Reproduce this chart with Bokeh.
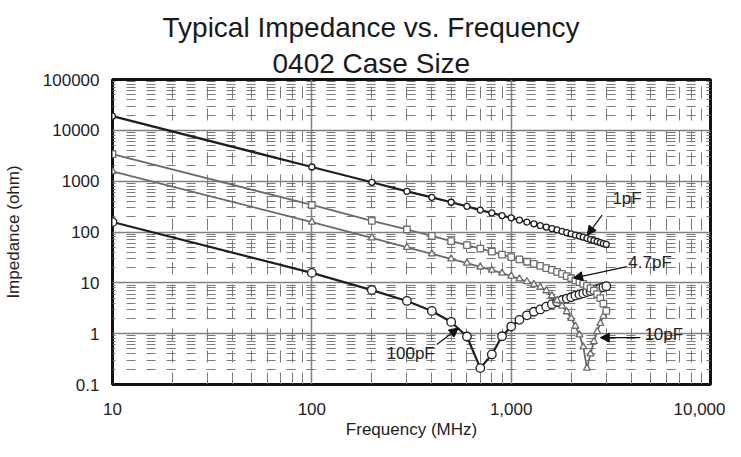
from bokeh.plotting import figure
from bokeh.models import Range1d, FixedTicker, Arrow, NormalHead, Label, Title
from bokeh.embed import file_html
from bokeh.resources import INLINE

freq_mhz = [10, 100, 200, 300, 400, 500, 600, 700, 800, 900, 1000,
            1100, 1200, 1300, 1400, 1500, 1600, 1700, 1800, 1900, 2000,
            2100, 2200, 2300, 2400, 2500, 2600, 2700, 2800, 2900, 3000]

z_1pf = [19000, 1900, 950, 630, 480, 385, 320, 270, 237, 210, 190,
         172, 157, 145, 134, 125, 117, 110, 103, 97, 92,
         87, 83, 79, 75, 71, 68, 65, 62, 59, 57]

z_4p7pf = [3400, 340, 166, 112, 84, 66, 55, 47, 41, 36, 32,
           29, 26, 23.5, 21.5, 19.5, 18, 16.5, 15, 13.5, 12.3,
           11.2, 10.3, 9.5, 8.7, 7.8, 7.0, 6.0, 5.0, 3.9, 2.8]

z_10pf = [1550, 157, 77, 50, 37, 29.5, 24.5, 20.5, 17.8, 15.5, 13.6,
          12, 10.6, 9.3, 8.2, 7.0, 5.6, 4.5, 3.5, 2.7, 2.0,
          1.4, 0.95, 0.55, 0.21, 0.4, 0.7, 1.1, 1.6, 2.2, 2.9]

z_100pf = [157, 15.7, 7.2, 4.4, 2.8, 1.7, 0.88, 0.21, 0.39, 0.89, 1.38,
           1.87, 2.3, 2.7, 3.0, 3.4, 3.8, 4.2, 4.6, 4.9, 5.2,
           5.6, 5.9, 6.2, 6.6, 6.9, 7.2, 7.6, 7.9, 8.2, 8.6]

x_ticks = [10, 100, 1000, 10000]
x_tick_labels = ["10", "100", "1,000", "10,000"]
y_ticks = [0.1, 1, 10, 100, 1000, 10000, 100000]
y_tick_labels = ["0.1", "1", "10", "100", "1000", "10000", "100000"]

FONT = "Liberation Sans"

p = figure(width=725, height=441, x_axis_type="log", y_axis_type="log",
           x_range=Range1d(10, 10000), y_range=Range1d(0.1, 100000),
           output_backend="svg", toolbar_location=None,
           min_border_left=105, min_border_right=15,
           min_border_top=0, min_border_bottom=0)

p.add_layout(Title(text="0402 Case Size", align="left", offset=160,
                   text_font=FONT, text_font_size="28px", text_font_style="normal",
                   text_color="#1a1a1a", standoff=2), "above")
p.add_layout(Title(text="Typical Impedance vs. Frequency", align="left", offset=50,
                   text_font=FONT, text_font_size="28px", text_font_style="normal",
                   text_color="#1a1a1a", standoff=3), "above")
p.add_layout(Title(text=" ", text_font=FONT, text_font_size="6px", standoff=0), "above")

p.outline_line_color = "#111111"
p.outline_line_width = 3

minor_x = [m * d for d in [10, 100, 1000] for m in range(2, 10)]
minor_y = [m * d for d in [0.1, 1, 10, 100, 1000, 10000] for m in range(2, 10)]

p.xaxis.ticker = FixedTicker(ticks=x_ticks, minor_ticks=minor_x)
p.yaxis.ticker = FixedTicker(ticks=y_ticks, minor_ticks=minor_y)
p.xaxis.major_label_overrides = {t: l for t, l in zip(x_ticks, x_tick_labels)}
p.yaxis.major_label_overrides = {t: l for t, l in zip(y_ticks, y_tick_labels)}

for ax in (p.xaxis, p.yaxis):
    ax.axis_line_color = None
    ax.major_tick_line_color = None
    ax.minor_tick_line_color = None
    ax.major_tick_out = 0
    ax.minor_tick_out = 0
    ax.major_label_text_font = FONT
    ax.major_label_text_font_size = "17px"
    ax.major_label_text_color = "#222222"
    ax.axis_label_text_font = FONT
    ax.axis_label_text_font_size = "17px"
    ax.axis_label_text_font_style = "normal"
    ax.axis_label_text_color = "#222222"

p.xaxis.axis_label = "Frequency (MHz)"
p.yaxis.axis_label = "Impedance (ohm)"
p.xaxis.major_label_standoff = 18
p.xaxis.axis_label_standoff = 2
p.yaxis.major_label_standoff = 13
p.yaxis.axis_label_standoff = 17

p.xgrid.grid_line_color = "#808080"
p.ygrid.grid_line_color = "#808080"
p.xgrid.grid_line_width = 1.5
p.ygrid.grid_line_width = 1.5
p.ygrid.minor_grid_line_color = "#7a7a7a"
p.ygrid.minor_grid_line_dash = "9 11"
p.ygrid.minor_grid_line_dash_offset = 6
p.ygrid.minor_grid_line_width = 1
p.xgrid.minor_grid_line_color = "#7a7a7a"
p.xgrid.minor_grid_line_dash = "12 10"
p.xgrid.minor_grid_line_width = 1

series = [
    (z_100pf, "#1e1e1e", 2.2, "circle", 8.5),
    (z_10pf, "#6a6a6a", 1.8, "triangle", 7),
    (z_4p7pf, "#6a6a6a", 1.8, "square", 6.5),
    (z_1pf, "#1e1e1e", 2.2, "circle", 6),
]
for ys, col, lw, mk, sz in series:
    p.line(freq_mhz, ys, line_color=col, line_width=lw)
    p.scatter(freq_mhz, ys, marker=mk, size=sz, fill_color="white",
              line_color=col, line_width=1.3)

annotations = [
    ("1pF", 3220, 300, 2860, 215, 2410, 87),
    ("4.7pF", 3870, 16.0, 3810, 20.9, 2055, 12.4),
    ("10pF", 4660, 0.64, 4450, 0.836, 2800, 0.836),
    ("100pF", 237, 0.26, 424, 0.61, 543, 1.29),
]
for txt, tx, ty, ax0, ay0, ax1, ay1 in annotations:
    p.add_layout(Label(x=tx, y=ty, text=txt, text_font=FONT,
                       text_font_size="17px", text_color="#222222"))
    p.add_layout(Arrow(x_start=ax0, y_start=ay0, x_end=ax1, y_end=ay1,
                       line_color="#111111", line_width=1.2,
                       end=NormalHead(size=9, fill_color="#111111",
                                      line_color="#111111")))

open("out.html", "w").write(file_html(p, INLINE))
